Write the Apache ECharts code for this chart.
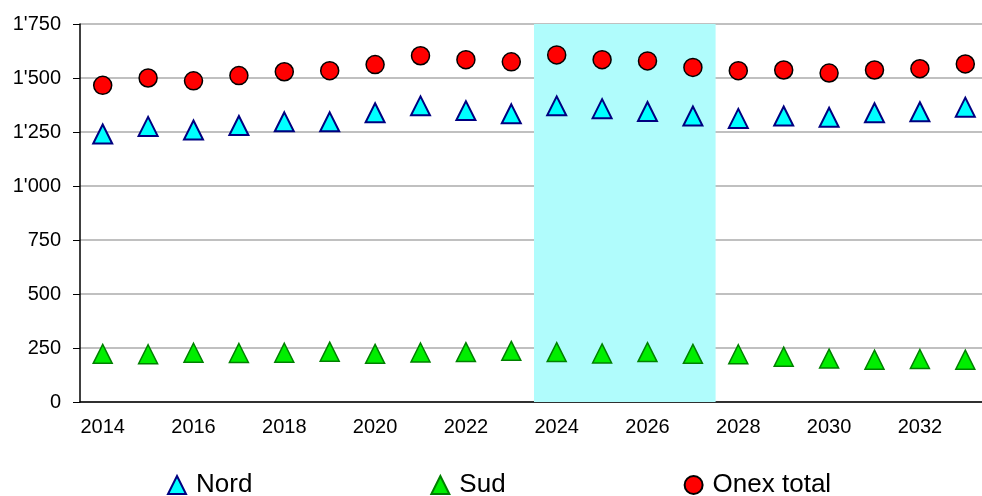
<!DOCTYPE html>
<html>
<head>
<meta charset="utf-8">
<script src="https://cdn.jsdelivr.net/npm/echarts@6/dist/echarts.min.js"></script>
<style>
    html, body { margin: 0; padding: 0; background: #fff; overflow: hidden; }
    #chart { width: 988px; height: 496px; }
</style>
</head>
<body>
<div id="chart"></div>
<script>
var years = ['2014','2015','2016','2017','2018','2019','2020','2021','2022','2023',
             '2024','2025','2026','2027','2028','2029','2030','2031','2032','2033'];
var nord  = [1241,1276,1259,1280,1297,1297,1339,1371,1349,1334,1371,1358,1345,1324,1313,1324,1318,1339,1344,1365];
var sud   = [223,221,228,227,228,233,223,229,231,237,231,225,231,223,221,210,201,196,199,196];
var onex  = [1466,1500,1487,1511,1529,1534,1562,1603,1585,1575,1607,1585,1579,1549,1534,1537,1523,1537,1543,1565];
var bandFrom = '2024';    // zone surlignée en cyan
var bandTo = '2027';
var yMax = 1750;
var yStep = 250;

var font = 'Liberation Sans, Arial, sans-serif';

function fmt(v) {
    if (v < 1000) return String(v);
    var r = String(v % 1000);
    while (r.length < 3) r = '0' + r;
    return Math.floor(v / 1000) + "'" + r;
}

var myChart = echarts.init(document.getElementById('chart'));
myChart.setOption({
    animation: false,
    backgroundColor: '#fff',
    textStyle: { fontFamily: font },
    grid: { left: 80, top: 24, right: 0, bottom: 94 },
    legend: {
        data: ['Nord', 'Sud', 'Onex total'],
        left: 162,
        top: 467,
        itemWidth: 18,
        itemHeight: 18,
        itemGap: 178,
        textStyle: { fontSize: 26, color: '#000', fontFamily: font, padding: [0, 0, 0, 5] }
    },
    xAxis: [
        {
            type: 'category',
            data: years,
            boundaryGap: true,
            axisLine: { lineStyle: { color: '#000', width: 1.5 } },
            axisTick: { interval: 0, length: 6, lineStyle: { color: '#000' } },
            axisLabel: { interval: 1, fontSize: 20, color: '#000', margin: 15 },
            splitLine: { show: false }
        },
        {
            // axe caché en index d'année, pour la zone
            type: 'value',
            min: 0,
            max: years.length,
            show: false
        }
    ],
    yAxis: {
        type: 'value',
        min: 0,
        max: yMax,
        interval: yStep,
        axisLine: { show: true, lineStyle: { color: '#000', width: 1.5 } },
        axisTick: { show: true, length: 7, lineStyle: { color: '#000' } },
        axisLabel: { fontSize: 20, color: '#000', margin: 19, formatter: fmt },
        splitLine: { lineStyle: { color: '#c0c0c0', width: 2 } }
    },
    series: [
        {
            name: 'zone',
            type: 'scatter',
            xAxisIndex: 1,
            data: [],
            silent: true,
            z: -1,
            markArea: {
                silent: true,
                itemStyle: { color: '#b0fcfc', opacity: 1 },
                data: [[
                    { xAxis: years.indexOf(bandFrom) },
                    { xAxis: years.indexOf(bandTo) + 1 }
                ]]
            }
        },
        {
            name: 'Nord',
            type: 'scatter',
            data: nord,
            symbol: 'triangle',
            symbolSize: 19,
            z: 3,
            itemStyle: { color: '#00ffff', borderColor: '#000080', borderWidth: 2, opacity: 1 }
        },
        {
            name: 'Sud',
            type: 'scatter',
            data: sud,
            symbol: 'triangle',
            symbolSize: 19,
            z: 3,
            itemStyle: { color: '#00ee00', borderColor: '#008000', borderWidth: 1.5, opacity: 1 }
        },
        {
            name: 'Onex total',
            type: 'scatter',
            data: onex,
            symbol: 'circle',
            symbolSize: 18,
            z: 3,
            itemStyle: { color: '#ff0000', borderColor: '#000', borderWidth: 1.5, opacity: 1 }
        }
    ]
});
</script>
</body>
</html>
